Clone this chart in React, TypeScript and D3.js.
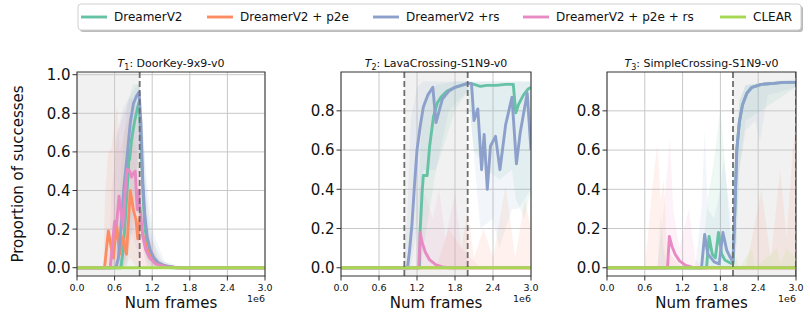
import React from 'react'
import * as d3 from 'd3'

type Pt = [number, number]
type Band = [number, number, number]

const seriesNames = ['DreamerV2', 'DreamerV2 + p2e', 'DreamerV2 +rs', 'DreamerV2 + p2e + rs', 'CLEAR']
const seriesColors = ['#66c2a5', '#fc8d62', '#8da0cb', '#e78ac3', '#a6d854']

const taskNames = ['DoorKey-9x9-v0', 'LavaCrossing-S1N9-v0', 'SimpleCrossing-S1N9-v0']
const taskSpans: Pt[] = [[0, 1], [1, 2], [2, 3]]
const taskSwitches = [[1], [1, 2], [2, 3]]
const xTicks = [0, 0.6, 1.2, 1.8, 2.4, 3.0]

// T1: DoorKey, x in 1e6 frames
const t1Dv2: Pt[] = [[0, 0], [0.7, 0], [0.74, 0.1], [0.78, 0.3], [0.82, 0.5], [0.83, 0.6], [0.84, 0.56], [0.87, 0.66], [0.92, 0.76], [0.96, 0.82], [0.99, 0.86], [1.02, 0.65], [1.05, 0.4], [1.08, 0.22], [1.12, 0.12], [1.18, 0.06], [1.25, 0.03], [1.35, 0.01], [1.5, 0], [3, 0]]
const t1P2e: Pt[] = [[0, 0], [0.44, 0], [0.5, 0.19], [0.55, 0.1], [0.58, 0.05], [0.63, 0.23], [0.68, 0.07], [0.73, 0.16], [0.79, 0.07], [0.85, 0.4], [0.9, 0.3], [0.94, 0.25], [0.97, 0.15], [1.0, 0.26], [1.05, 0.17], [1.12, 0.1], [1.2, 0.05], [1.3, 0.02], [1.45, 0.005], [1.6, 0], [3, 0]]
const t1Rs: Pt[] = [[0, 0], [0.62, 0], [0.66, 0.05], [0.7, 0.2], [0.75, 0.42], [0.8, 0.58], [0.85, 0.75], [0.9, 0.85], [0.95, 0.89], [0.99, 0.91], [1.02, 0.75], [1.05, 0.45], [1.08, 0.28], [1.12, 0.16], [1.17, 0.09], [1.23, 0.05], [1.3, 0.025], [1.4, 0.01], [1.55, 0.003], [1.7, 0], [3, 0]]
const t1P2eRs: Pt[] = [[0, 0], [0.53, 0], [0.56, 0.1], [0.6, 0.24], [0.63, 0.22], [0.67, 0.37], [0.7, 0.3], [0.73, 0.21], [0.77, 0.4], [0.8, 0.51], [0.84, 0.5], [0.87, 0.47], [0.9, 0.49], [0.93, 0.5], [0.96, 0.3], [0.98, 0.4], [1.01, 0.3], [1.05, 0.16], [1.1, 0.09], [1.16, 0.05], [1.25, 0.02], [1.4, 0.005], [1.6, 0], [3, 0]]
const t1Clear: Pt[] = [[0, 0], [3, 0]]

const t1Dv2Band: Band[] = [[0.65, 0, 0], [0.7, 0, 0.5], [0.8, 0, 0.85], [0.9, 0.3, 0.95], [1.0, 0.7, 0.95], [1.05, 0.1, 0.7], [1.12, 0, 0.35], [1.2, 0, 0.15], [1.35, 0, 0.04], [1.6, 0, 0]]
const t1P2eBand: Band[] = [[0.42, 0, 0], [0.45, 0, 0.4], [0.5, 0, 0.6], [0.55, 0, 0.62], [0.6, 0, 0.75], [0.64, 0, 0.84], [0.68, 0, 0.6], [0.75, 0, 0.7], [0.85, 0.05, 0.8], [0.95, 0, 0.6], [1.05, 0, 0.35], [1.15, 0, 0.15], [1.3, 0, 0.04], [1.5, 0, 0]]
const t1RsBand: Band[] = [[0.55, 0, 0], [0.61, 0, 0.66], [0.74, 0, 0.83], [0.9, 0.2, 0.92], [1.0, 0.7, 0.96], [1.05, 0.3, 0.75], [1.1, 0.05, 0.49], [1.2, 0, 0.2], [1.27, 0, 0.14], [1.4, 0, 0.03], [1.8, 0, 0]]
const t1P2eRsBand: Band[] = [[0.5, 0, 0], [0.55, 0, 0.4], [0.65, 0, 0.7], [0.75, 0, 0.8], [0.85, 0.2, 0.88], [0.95, 0.1, 0.85], [1.05, 0, 0.5], [1.15, 0, 0.2], [1.3, 0, 0.05], [1.5, 0, 0]]

// T2: LavaCrossing
const t2Dv2: Pt[] = [[0, 0], [1.24, 0], [1.25, 0.19], [1.28, 0.38], [1.3, 0.47], [1.36, 0.47], [1.4, 0.62], [1.46, 0.77], [1.52, 0.84], [1.58, 0.87], [1.67, 0.9], [1.8, 0.92], [1.9, 0.93], [2.0, 0.94], [2.1, 0.935], [2.2, 0.925], [2.3, 0.93], [2.45, 0.93], [2.6, 0.935], [2.72, 0.935], [2.76, 0.79], [2.8, 0.83], [2.88, 0.88], [2.95, 0.91], [3.0, 0.92]]
const t2P2e: Pt[] = [[0, 0], [3, 0]]
const t2Rs: Pt[] = [[0, 0], [1.05, 0], [1.08, 0.08], [1.12, 0.22], [1.16, 0.42], [1.2, 0.6], [1.25, 0.72], [1.3, 0.82], [1.37, 0.88], [1.45, 0.92], [1.5, 0.74], [1.55, 0.8], [1.6, 0.86], [1.7, 0.9], [1.8, 0.92], [1.9, 0.93], [2.0, 0.94], [2.06, 0.94], [2.1, 0.75], [2.16, 0.81], [2.22, 0.5], [2.26, 0.68], [2.31, 0.4], [2.36, 0.62], [2.44, 0.67], [2.51, 0.5], [2.6, 0.73], [2.7, 0.87], [2.77, 0.53], [2.83, 0.69], [2.94, 0.89], [3.0, 0.6]]
const t2P2eRs: Pt[] = [[0, 0], [1.23, 0], [1.25, 0.18], [1.28, 0.13], [1.33, 0.08], [1.4, 0.04], [1.5, 0.015], [1.6, 0.004], [1.7, 0], [3, 0]]
const t2Clear: Pt[] = [[0, 0], [3, 0]]

const t2Dv2Band: Band[] = [[1.2, 0, 0], [1.25, 0, 0.6], [1.3, 0.1, 0.85], [1.5, 0.5, 0.93], [1.8, 0.8, 0.95], [2.0, 0.9, 0.95], [2.1, 0.6, 0.95], [2.3, 0.5, 0.95], [2.5, 0.45, 0.95], [2.7, 0.5, 0.95], [2.76, 0.35, 0.95], [2.9, 0.25, 0.95], [3, 0.4, 0.95]]
const t2P2eBand: Band[] = [[1.5, 0, 0], [1.7, 0, 0.2], [1.9, 0, 0.1], [2.0, 0, 0.3], [2.1, 0, 0.05], [2.25, 0, 0.2], [2.4, 0, 0.05], [2.6, 0, 0.42], [2.75, 0, 0.05], [2.9, 0, 0.35], [3, 0, 0.2]]
const t2RsBand: Band[] = [[1.0, 0, 0], [1.05, 0, 0.3], [1.1, 0, 0.75], [1.2, 0.2, 0.92], [1.3, 0.5, 0.95], [1.5, 0.5, 0.95], [1.7, 0.8, 0.95], [2.0, 0.9, 0.95], [2.05, 0.75, 0.95], [2.2, 0.2, 0.95], [2.4, 0.25, 0.95], [2.5, 0.1, 0.95], [2.7, 0.3, 0.95], [2.8, 0.3, 0.95], [3, 0.4, 0.95]]
const t2P2eRsBand: Band[] = [[1.2, 0, 0], [1.25, 0, 0.42], [1.35, 0, 0.35], [1.45, 0, 0.25], [1.55, 0, 0.4], [1.65, 0, 0.15], [1.8, 0, 0.38], [1.9, 0, 0.1], [2.05, 0, 0.05], [2.2, 0, 0]]

// T3: SimpleCrossing
const t3Dv2: Pt[] = [[0, 0], [1.58, 0], [1.62, 0.16], [1.67, 0.07], [1.72, 0.05], [1.77, 0.18], [1.82, 0.07], [1.87, 0.04], [1.95, 0.025], [2.0, 0.02], [2.03, 0.3], [2.06, 0.6], [2.1, 0.74], [2.15, 0.83], [2.22, 0.89], [2.3, 0.92], [2.45, 0.935], [2.65, 0.94], [2.8, 0.945], [3, 0.945]]
const t3P2e: Pt[] = [[0, 0], [3, 0]]
const t3Rs: Pt[] = [[0, 0], [1.5, 0], [1.55, 0.17], [1.6, 0.07], [1.65, 0.05], [1.7, 0.03], [1.78, 0.02], [1.84, 0.18], [1.9, 0.09], [1.96, 0.05], [2.0, 0.03], [2.03, 0.3], [2.06, 0.6], [2.1, 0.74], [2.15, 0.83], [2.22, 0.89], [2.3, 0.92], [2.45, 0.935], [2.65, 0.94], [2.8, 0.945], [3, 0.945]]
const t3P2eRs: Pt[] = [[0, 0], [0.96, 0], [0.99, 0.16], [1.03, 0.11], [1.08, 0.07], [1.15, 0.035], [1.25, 0.012], [1.35, 0.003], [1.45, 0], [3, 0]]
const t3Clear: Pt[] = [[0, 0], [3, 0]]

const t3Dv2Band: Band[] = [[0.8, 0, 0], [0.85, 0, 0.27], [0.9, 0, 0.1], [0.95, 0, 0], [1.5, 0, 0], [1.6, 0, 0.35], [1.7, 0, 0.55], [1.8, 0, 0.81], [1.88, 0, 0.5], [1.95, 0, 0.2], [2.0, 0, 0.1], [2.05, 0.1, 0.6], [2.1, 0.5, 0.85], [2.2, 0.75, 0.93], [3, 0.92, 0.96]]
const t3P2eBand: Band[] = [[0.6, 0, 0], [0.66, 0, 0.2], [0.7, 0, 0.35], [0.75, 0, 0.5], [0.8, 0, 0.63], [0.85, 0, 0.35], [0.9, 0, 0.45], [0.95, 0, 0.1], [1.05, 0, 0.05], [1.2, 0, 0], [2.2, 0, 0], [2.3, 0, 0.15], [2.45, 0, 0.4], [2.6, 0, 0.05], [2.75, 0, 0.5], [2.85, 0, 0.15], [2.95, 0, 0.6], [3.0, 0, 0.75]]
const t3RsBand: Band[] = [[1.4, 0, 0], [1.5, 0, 0.3], [1.55, 0, 0.7], [1.6, 0, 0.3], [1.7, 0, 0.25], [1.8, 0, 0.4], [1.85, 0, 0.55], [1.95, 0, 0.3], [2.0, 0, 0.15], [2.05, 0.1, 0.6], [2.1, 0.5, 0.85], [2.2, 0.7, 0.93], [2.35, 0.75, 0.94], [2.43, 0.65, 0.94], [2.55, 0.88, 0.95], [3, 0.92, 0.96]]
const t3P2eRsBand: Band[] = [[0.8, 0, 0], [0.9, 0, 0.3], [1.0, 0, 0.66], [1.05, 0, 0.3], [1.15, 0, 0.1], [1.3, 0, 0.3], [1.4, 0, 0.05], [1.5, 0, 0]]
const t3ClearBand: Band[] = [[2.0, 0, 0], [2.05, 0, 0.06], [2.1, 0, 0], [2.3, 0, 0.1], [2.35, 0, 0], [2.7, 0, 0.1], [2.75, 0, 0.02], [2.85, 0, 0.1], [3, 0, 0.05]]

const taskMeans: Pt[][][] = [
  [t1Dv2, t1P2e, t1Rs, t1P2eRs, t1Clear],
  [t2Dv2, t2P2e, t2Rs, t2P2eRs, t2Clear],
  [t3Dv2, t3P2e, t3Rs, t3P2eRs, t3Clear],
]
const taskBands: Band[][][] = [
  [t1Dv2Band, t1P2eBand, t1RsBand, t1P2eRsBand, []],
  [t2Dv2Band, t2P2eBand, t2RsBand, t2P2eRsBand, []],
  [t3Dv2Band, t3P2eBand, t3RsBand, t3P2eRsBand, t3ClearBand],
]

const font = 'DejaVu Sans, sans-serif'
const top = 72
const bottom = 276
const panelX: Pt[] = [[77, 265], [341, 531], [607, 796]]
const panelY: Pt[] = [[-0.043, 1.014], [-0.042, 0.998], [-0.042, 0.998]]

function Panel({ i }: { i: number }) {
  const [left, right] = panelX[i]
  const x = d3.scaleLinear().domain([0, 3]).range([left, right])
  const y = d3.scaleLinear().domain(panelY[i]).range([bottom, top])
  const yTicks = d3.range(0, panelY[i][1] + 1e-9, 0.2)
  const line = d3.line<Pt>().x(d => x(d[0])).y(d => y(d[1]))
  const area = d3.area<Band>().x(d => x(d[0])).y0(d => y(d[1])).y1(d => y(d[2]))
  const clip = `clip-${i}`
  const [s0, s1] = taskSpans[i]
  return (
    <g>
      <defs>
        <clipPath id={clip}><rect x={left} y={top} width={right - left} height={bottom - top} /></clipPath>
      </defs>
      <rect x={x(s0)} y={top} width={x(s1) - x(s0)} height={bottom - top} fill="#888" fillOpacity={0.12} />
      {xTicks.map(t => <line key={'gx' + t} x1={x(t)} x2={x(t)} y1={top} y2={bottom} stroke="#c8c8c8" strokeWidth={1} />)}
      {yTicks.map(t => <line key={'gy' + t} x1={left} x2={right} y1={y(t)} y2={y(t)} stroke="#c8c8c8" strokeWidth={1} />)}
      <g clipPath={`url(#${clip})`}>
        {taskBands[i].map((b, k) => b.length ? <path key={'b' + k} d={area(b)!} fill={seriesColors[k]} fillOpacity={0.11} /> : null)}
        {taskMeans[i].map((m, k) => <path key={'m' + k} d={line(m)!} fill="none" stroke={seriesColors[k]} strokeWidth={2.9} strokeLinejoin="round" />)}
        {taskSwitches[i].map(s => <line key={'d' + s} x1={x(s)} x2={x(s)} y1={top} y2={bottom} stroke="#6e6e6e" strokeWidth={1.8} strokeDasharray="6,3" />)}
      </g>
      <rect x={left} y={top} width={right - left} height={bottom - top} fill="none" stroke="#333" strokeWidth={1} />
      {yTicks.map(t => (
        <g key={'ty' + t}>
          <line x1={left - 4.5} x2={left} y1={y(t)} y2={y(t)} stroke="#333" />
          <text x={left - 6.5} y={y(t)} dy="0.36em" textAnchor="end" fontSize={15} fontFamily={font} fill="#111">{t.toFixed(1)}</text>
        </g>
      ))}
      {xTicks.map(t => (
        <g key={'tx' + t}>
          <line x1={x(t)} x2={x(t)} y1={bottom} y2={bottom + 4.5} stroke="#333" />
          <text x={x(t)} y={290.5} textAnchor="middle" fontSize={9.5} fontFamily={font} fill="#111">{t.toFixed(1)}</text>
        </g>
      ))}
      <text x={right} y={302} textAnchor="end" fontSize={9.5} fontFamily={font} fill="#111">1e6</text>
      <text x={(left + right) / 2} y={308} textAnchor="middle" fontSize={15} fontFamily={font} fill="#111">Num frames</text>
      <text x={(left + right) / 2} y={67} textAnchor="middle" fontSize={11} fontFamily={font} fill="#111">
        <tspan fontStyle="italic">T</tspan>
        <tspan fontSize={8} dy={3}>{i + 1}</tspan>
        <tspan dy={-3}>{': ' + taskNames[i]}</tspan>
      </text>
    </g>
  )
}

const legendX = [81, 207, 373, 523, 720]

function Legend() {
  return (
    <g>
      <rect x={80} y={6} width={723} height={26} rx={3} fill="#777" fillOpacity={0.5} />
      <rect x={78} y={4} width={723} height={26} rx={3} fill="#fff" stroke="#d0d0d0" strokeWidth={1} />
      {seriesNames.map((name, k) => (
        <g key={name}>
          <line x1={legendX[k]} x2={legendX[k] + 26} y1={17} y2={17} stroke={seriesColors[k]} strokeWidth={2.9} />
          <text x={legendX[k] + 33} y={17} dy="0.36em" fontSize={12} fontFamily={font} fill="#111">{name}</text>
        </g>
      ))}
    </g>
  )
}

export default function App() {
  return (
    <svg width={810} height={317} style={{ position: 'absolute', left: 0, top: 0, background: '#fff' }}>
      {[0, 1, 2].map(i => <Panel key={i} i={i} />)}
      <text transform="translate(18,174) rotate(-90)" textAnchor="middle" dy="0.36em" fontSize={15} fontFamily={font} fill="#111">Proportion of successes</text>
      <Legend />
    </svg>
  )
}
